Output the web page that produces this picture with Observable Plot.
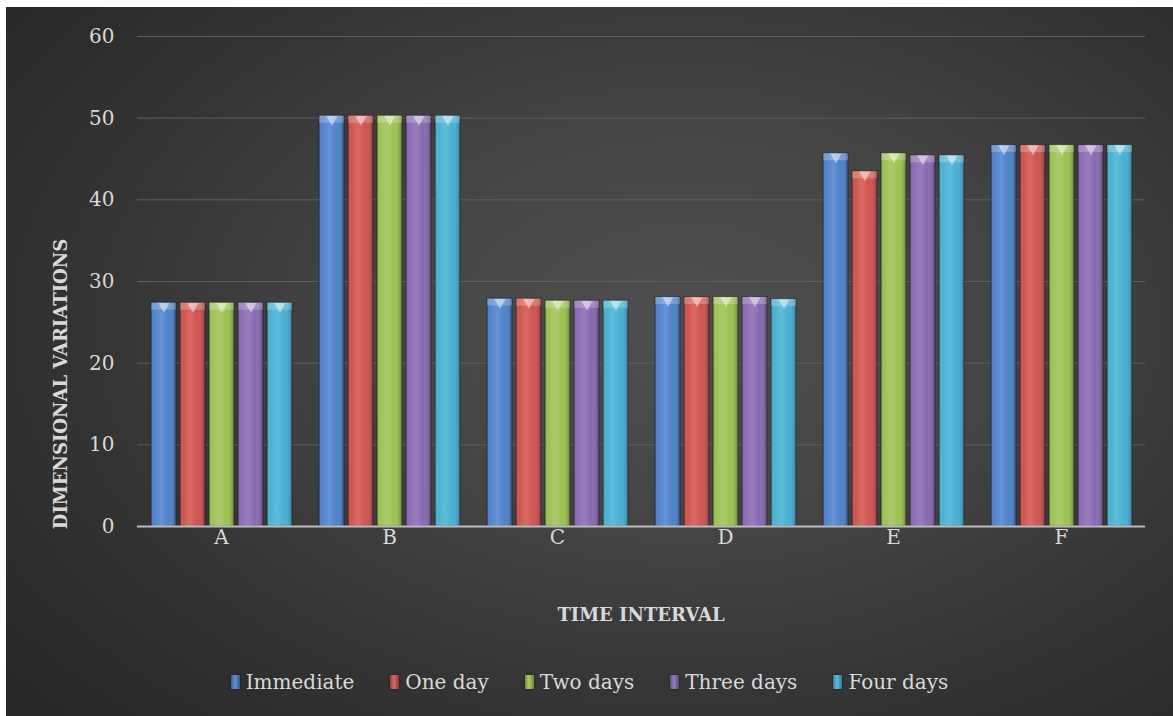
<!DOCTYPE html>
<html>
<head>
<meta charset="utf-8">
<script src="https://cdn.jsdelivr.net/npm/d3@7"></script>
<script src="https://cdn.jsdelivr.net/npm/@observablehq/plot@0.6"></script>
<style>
  html, body { margin: 0; padding: 0; background: #ffffff; width: 1173px; height: 716px; overflow: hidden; }
  #chart {
    position: absolute; left: 6px; top: 7px; width: 1167px; height: 709px;
    background: radial-gradient(ellipse 75% 80% at 58% 45%, #4f4f4f 0%, #454545 35%, #333333 70%, #272727 100%);
    font-family: "DejaVu Serif", serif;
  }
  #legend {
    position: absolute; left: 0; width: 1167px; top: 663px;
    display: flex; justify-content: center; gap: 36px;
    color: #d9d9d9; font-size: 20px; font-family: "DejaVu Serif", serif;
  }
  .item { display: flex; align-items: center; gap: 6px; }
  .sw { width: 9px; height: 14px; position: relative; box-shadow: 0 0 2px rgba(0,0,0,0.6); }
</style>
</head>
<body>
<div id="chart"></div>
<script>
const categories = ["A", "B", "C", "D", "E", "F"];
const series = ["Immediate", "One day", "Two days", "Three days", "Four days"];
const immediate = [27.4, 50.3, 27.9, 28.1, 45.7, 46.7];
const oneDay    = [27.4, 50.3, 27.9, 28.1, 43.5, 46.7];
const twoDays   = [27.4, 50.3, 27.65, 28.1, 45.7, 46.7];
const threeDays = [27.4, 50.3, 27.65, 28.1, 45.45, 46.7];
const fourDays  = [27.4, 50.3, 27.65, 27.85, 45.45, 46.7];
const yTicks = [0, 10, 20, 30, 40, 50, 60];
const colors = ["#4a7fcb", "#cf4f4a", "#9cc14f", "#8566b0", "#45afd3"];

const values = [immediate, oneDay, twoDays, threeDays, fourDays];
const data = [];
categories.forEach((c, i) => {
  series.forEach((s, j) => data.push({cat: c, series: s, value: values[j][i]}));
});

const svg = Plot.plot({
  width: 1167,
  height: 640,
  marginLeft: 130,
  marginRight: 27,
  marginTop: 29,
  marginBottom: 121,
  style: {background: "transparent", fontFamily: "DejaVu Serif, serif", fontSize: "20px", color: "#d9d9d9"},
  fx: {domain: categories, padding: 0, axis: "bottom", tickSize: 0, tickPadding: 3, label: null},
  x: {domain: series, paddingInner: 0.15, paddingOuter: 0.38, axis: null},
  y: {domain: [0, 60], ticks: yTicks, tickSize: 0, tickPadding: 23, label: null},
  color: {domain: series, range: colors},
  marks: [
    Plot.ruleY(yTicks.slice(1), {stroke: "#5e5e5e", strokeWidth: 1}),
    Plot.barY(data, {fx: "cat", x: "series", y: "value", fill: "series", stroke: "#1c1c1c", strokeOpacity: 0.55, strokeWidth: 1}),
    Plot.barY(data, {fx: "cat", x: "series", y: "value", fill: "url(#gloss)"}),
    Plot.tickY(data, {fx: "cat", x: "series", y: "value", stroke: "#ffffff", strokeOpacity: 0.22, strokeWidth: 7, dy: 3.5}),
    Plot.dot(data, {fx: "cat", x: "series", y: "value", symbol: "triangle", rotate: 180, r: 4.2, fill: "#ffffff", fillOpacity: 0.45, stroke: "none", dy: 3.5}),
    Plot.ruleY([0], {stroke: "#bdbdbd", strokeWidth: 2})
  ]
});

const defs = d3.select(svg).insert("defs", ":first-child");
const g = defs.append("linearGradient").attr("id", "gloss").attr("x1", 0).attr("x2", 1).attr("y1", 0).attr("y2", 0);
[[0, "#000", 0.3], [0.12, "#fff", 0.03], [0.4, "#fff", 0.16], [0.7, "#fff", 0.02], [1, "#000", 0.32]].forEach(([o, c, a]) =>
  g.append("stop").attr("offset", o).attr("stop-color", c).attr("stop-opacity", a));

svg.style.position = "absolute";
svg.style.left = "0px";
svg.style.top = "0px";

const W = 1167;
d3.select(svg).append("text")
  .attr("x", (130 + W - 27) / 2).attr("y", 607)
  .attr("text-anchor", "middle").attr("dominant-baseline", "central")
  .attr("font-weight", "bold").attr("font-size", 18).attr("fill", "#d9d9d9")
  .text("TIME INTERVAL");
d3.select(svg).append("text")
  .attr("transform", "translate(54,377) rotate(-90)")
  .attr("text-anchor", "middle").attr("dominant-baseline", "central")
  .attr("font-weight", "bold").attr("font-size", 18).attr("fill", "#d9d9d9")
  .text("DIMENSIONAL VARIATIONS");

const chart = document.getElementById("chart");
chart.appendChild(svg);

const legend = document.createElement("div");
legend.id = "legend";
series.forEach((s, j) => {
  const item = document.createElement("div");
  item.className = "item";
  const sw = document.createElement("span");
  sw.className = "sw";
  sw.style.background = `linear-gradient(to right, rgba(0,0,0,0.25), rgba(255,255,255,0.15) 45%, rgba(0,0,0,0.3)), ${colors[j]}`;
  const lab = document.createElement("span");
  lab.textContent = s;
  item.appendChild(sw);
  item.appendChild(lab);
  legend.appendChild(item);
});
chart.appendChild(legend);
</script>
</body>
</html>
